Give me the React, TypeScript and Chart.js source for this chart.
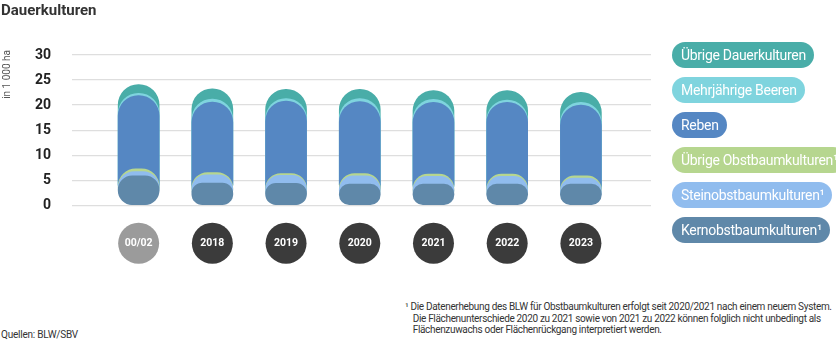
import React, { useEffect, useRef } from 'react';
import { Chart, registerables } from 'chart.js';
Chart.register(...registerables);

const categories = ['00/02', '2018', '2019', '2020', '2021', '2022', '2023'];
const kernobst = [5.9, 4.45, 4.4, 4.25, 4.25, 4.25, 4.25];
const steinobst = [0.85, 1.65, 1.57, 1.65, 1.52, 1.52, 1.18];
const uebrigeObstbaum = [0.55, 0.45, 0.38, 0.45, 0.46, 0.46, 0.47];
const reben = [14.6, 14.05, 14.45, 14.35, 14.32, 14.32, 14.1];
const beeren = [0.45, 0.6, 0.5, 0.6, 0.6, 0.45, 0.55];
const uebrigeDauer = [1.75, 2.05, 1.85, 1.85, 1.75, 1.9, 2.0];
const yTicks = [0, 5, 10, 15, 20, 25, 30];

const seriesNames = [
  'Kernobstbaumkulturen¹',
  'Steinobstbaumkulturen¹',
  'Übrige Obstbaumkulturen¹',
  'Reben',
  'Mehrjährige Beeren',
  'Übrige Dauerkulturen',
];
const seriesValues = [kernobst, steinobst, uebrigeObstbaum, reben, beeren, uebrigeDauer];
const seriesColors = ['#5f88a9', '#90bcee', '#b6d68f', '#5587c3', '#7fd4de', '#49ada8'];

const FONT = 'Roboto, sans-serif';

const yearCircles = {
  id: 'yearCircles',
  afterDraw(chart: any) {
    const { ctx, chartArea, scales } = chart;
    const xs = scales.x;
    ctx.save();
    categories.forEach((c, i) => {
      const cx = xs.getPixelForValue(i);
      const cy = chartArea.bottom + 38;
      ctx.beginPath();
      ctx.arc(cx, cy, 20.5, 0, Math.PI * 2);
      ctx.fillStyle = i === 0 ? '#9b9b9b' : '#3b3b3b';
      ctx.fill();
      ctx.fillStyle = '#ffffff';
      ctx.font = `bold 10.5px ${FONT}`;
      ctx.textAlign = 'center';
      ctx.textBaseline = 'middle';
      ctx.fillText(c, cx, cy + 0.5);
    });
    ctx.restore();
  },
};

export default function App() {
  const canvasRef = useRef<HTMLCanvasElement>(null);

  useEffect(() => {
    const cum: number[][] = [];
    seriesValues.forEach((vals, s) => {
      cum.push(vals.map((v, i) => (s === 0 ? v : cum[s - 1][i] + v)));
    });
    const datasets = seriesValues.map((_, s) => ({
      label: seriesNames[s],
      data: categories.map((_c, i) => ({ x: i, y: cum[s][i] })),
      backgroundColor: seriesColors[s],
      borderWidth: 0,
      borderRadius: 20.5,
      borderSkipped: false,
      barThickness: 41,
      grouped: false,
    }));
    const chart = new Chart(canvasRef.current as HTMLCanvasElement, {
      type: 'bar',
      data: { datasets } as any,
      options: {
        animation: false,
        responsive: false,
        maintainAspectRatio: false,
        layout: { padding: { left: 0, right: 185, top: 55, bottom: 64.7 } },
        plugins: { legend: { display: false }, tooltip: { enabled: false } },
        scales: {
          x: {
            type: 'linear',
            min: -0.343,
            max: 6.39,
            display: false,
          },
          y: {
            min: 0,
            max: 30,
            afterFit: (s: any) => {
              s.width = 72;
            },
            afterBuildTicks: (s: any) => {
              s.ticks = yTicks.map((v) => ({ value: v }));
            },
            grid: { color: '#dedede', lineWidth: 1.3, drawTicks: false },
            border: { display: false },
            ticks: {
              padding: 21,
              color: '#222222',
              font: { family: FONT, size: 14, weight: 'bold' },
            },
          },
        } as any,
      },
      plugins: [yearCircles],
    });
    return () => chart.destroy();
  }, []);

  const legendItems = seriesNames.map((n, i) => ({ n, c: seriesColors[i] })).reverse();

  return (
    <div style={{ position: 'absolute', left: 0, top: 0, width: 836, height: 355, fontFamily: FONT, overflow: 'hidden' }}>
      <canvas ref={canvasRef} width={836} height={270} style={{ position: 'absolute', left: 0, top: 0, width: 836, height: 270 }} />
      <div style={{ position: 'absolute', left: 1, top: 1, fontSize: 15, fontWeight: 'bold', color: '#333' }}>Dauerkulturen</div>
      <div
        style={{
          position: 'absolute',
          left: 1,
          top: 50,
          writingMode: 'vertical-rl',
          transform: 'rotate(180deg)',
          fontSize: 10,
          color: '#555',
          whiteSpace: 'nowrap',
          lineHeight: '12px',
        }}
      >
        in 1 000 ha
      </div>
      <div style={{ position: 'absolute', left: 672, top: 42 }}>
        {legendItems.map((it) => (
          <div key={it.n} style={{ height: 35 }}>
            <span
              style={{
                display: 'inline-block',
                height: 26,
                lineHeight: '26px',
                padding: '0 8px 0 9px',
                borderRadius: 13,
                background: it.c,
                color: '#fff',
                fontSize: 14,
                letterSpacing: '-0.3px',
                whiteSpace: 'nowrap',
              }}
            >
              {it.n}
            </span>
          </div>
        ))}
      </div>
      <div style={{ position: 'absolute', left: 405, top: 301, fontSize: 10, letterSpacing: '-0.33px', lineHeight: '11.7px', color: '#333', whiteSpace: 'nowrap' }}>
        <div>¹ Die Datenerhebung des BLW für Obstbaumkulturen erfolgt seit 2020/2021 nach einem neuem System.</div>
        <div style={{ paddingLeft: 7.7 }}>Die Flächenunterschiede 2020 zu 2021 sowie von 2021 zu 2022 können folglich nicht unbedingt als</div>
        <div style={{ paddingLeft: 7.7 }}>Flächenzuwachs oder Flächenrückgang interpretiert werden.</div>
      </div>
      <div style={{ position: 'absolute', left: 1, top: 329, fontSize: 10, letterSpacing: '-0.23px', color: '#333' }}>Quellen: BLW/SBV</div>
    </div>
  );
}
